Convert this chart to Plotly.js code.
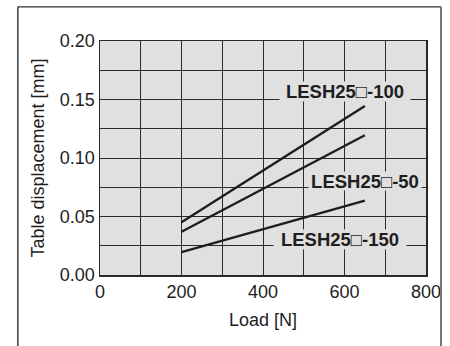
<!DOCTYPE html>
<html>
<head>
<meta charset="utf-8">
<script src="https://cdn.plot.ly/plotly-3.0.1.min.js"></script>
<style>html,body{margin:0;padding:0;background:#fff;}#chart{width:450px;height:346px;}</style>
</head>
<body>
<div id="chart"></div>
<script>
// Data
const seriesNames = ["LESH25□-100", "LESH25□-50", "LESH25□-150"];
const loadN = [200, 650];
const disp100 = [0.045, 0.1445];
const disp50 = [0.037, 0.1195];
const disp150 = [0.0195, 0.0635];
const xTicks = [0, 200, 400, 600, 800];
const yTicks = [0.00, 0.05, 0.10, 0.15, 0.20];
const yTickText = ["0.00", "0.05", "0.10", "0.15", "0.20"];

const ink = "#1e1e1e";
const plotBg = "#e0e0e0";
const gridC = "#2a2a2a";
const fontFam = "'Liberation Sans', Arial, sans-serif";

const ys = [disp100, disp50, disp150];
const traces = ys.map((y, i) => ({
  x: loadN, y: y, mode: "lines", name: seriesNames[i],
  line: {color: ink, width: 2.4}, hoverinfo: "skip"
}));

const annoSpec = [
  {x: 600, y: 0.1565, w: 130, h: 19},
  {x: 651, y: 0.0805, w: 112, h: 18},
  {x: 589, y: 0.0300, w: 132, h: 19}
];
const annotations = annoSpec.map((a, i) => ({
  x: a.x, y: a.y, xref: "x", yref: "y", text: "<b>" + seriesNames[i] + "</b>",
  showarrow: false, bgcolor: plotBg, borderpad: 0, width: a.w, height: a.h,
  font: {family: fontFam, size: 18.5, color: ink}
}));

const layout = {
  width: 450, height: 346,
  margin: {l: 100, r: 24, t: 41, b: 71, pad: 0},
  paper_bgcolor: "#ffffff", plot_bgcolor: plotBg,
  showlegend: false,
  font: {family: fontFam, size: 18, color: ink},
  xaxis: {
    range: [0, 800], tickvals: xTicks, ticks: "", showgrid: true,
    gridcolor: gridC, gridwidth: 1, zeroline: false,
    minor: {dtick: 100, tick0: 0, showgrid: true, gridcolor: gridC, gridwidth: 1},
    showline: true, linecolor: gridC, linewidth: 1.5, mirror: true,
    tickfont: {size: 18, color: ink},
    title: {text: "Load [N]", font: {size: 18, color: ink}, standoff: 12}
  },
  yaxis: {
    range: [0, 0.2], tickvals: yTicks, ticktext: yTickText, ticks: "", showgrid: true,
    gridcolor: gridC, gridwidth: 1, zeroline: false,
    minor: {dtick: 0.025, tick0: 0, showgrid: true, gridcolor: gridC, gridwidth: 1},
    showline: true, linecolor: gridC, linewidth: 1.5, mirror: true,
    tickfont: {size: 18, color: ink},
    title: {text: "Table displacement [mm]", font: {size: 18, color: ink}, standoff: 10}
  },
  annotations: annotations,
  shapes: [
    {type: "line", xref: "paper", yref: "paper", x0: -0.252, x1: -0.252, y0: -0.4, y1: 1.146, line: {color: "#333", width: 1.4}},
    {type: "line", xref: "paper", yref: "paper", x0: -0.252, x1: 1.046, y0: 1.146, y1: 1.146, line: {color: "#333", width: 1.4}},
    {type: "line", xref: "paper", yref: "paper", x0: 1.046, x1: 1.046, y0: -0.4, y1: 1.146, line: {color: "#777", width: 2}}
  ]
};

Plotly.newPlot("chart", traces, layout, {staticPlot: true, displayModeBar: false});
</script>
</body>
</html>
